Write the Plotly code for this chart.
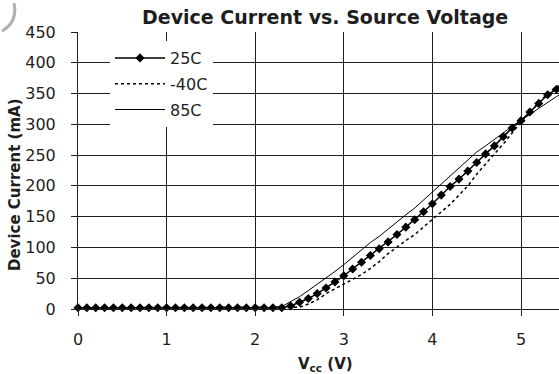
import plotly.graph_objects as go

# Source voltage (V)
vcc = [0.0, 0.1, 0.2, 0.3, 0.4, 0.5, 0.6, 0.7, 0.8, 0.9,
       1.0, 1.1, 1.2, 1.3, 1.4, 1.5, 1.6, 1.7, 1.8, 1.9,
       2.0, 2.1, 2.2, 2.3, 2.4, 2.5, 2.6, 2.7, 2.8, 2.9,
       3.0, 3.1, 3.2, 3.3, 3.4, 3.5, 3.6, 3.7, 3.8, 3.9,
       4.0, 4.1, 4.2, 4.3, 4.4, 4.5, 4.6, 4.7, 4.8, 4.9,
       5.0, 5.1, 5.2, 5.3, 5.4, 5.5]

# Device current (mA)
i_25c = [2, 2, 2, 2, 2, 2, 2, 2, 2, 2,
         2, 2, 2, 2, 2, 2, 2, 2, 2, 2,
         2, 2, 2, 2, 5, 11, 17, 25, 34, 44,
         54, 65, 76, 87, 98, 109, 121, 133, 145, 158,
         171, 185, 199, 211, 224, 238, 252, 265, 280, 294,
         306, 320, 334, 348, 357, 366]

i_m40c = [2, 2, 2, 2, 2, 2, 2, 2, 2, 2,
          2, 2, 2, 2, 2, 2, 2, 2, 2, 2,
          2, 2, 2, 2, 2, 3, 8, 15, 25, 33,
          41, 49, 56, 66, 77, 90, 101, 111, 121, 133,
          145, 158, 170, 185, 200, 219, 236, 252, 268, 287,
          304, 320, 335, 350, 360, 368]

i_85c = [2, 2, 2, 2, 2, 2, 2, 2, 2, 2,
         2, 2, 2, 2, 2, 2, 2, 2, 2, 2,
         2, 2, 2, 4, 12, 20, 30, 40, 51, 61,
         72, 84, 96, 108, 118, 130, 142, 153, 164, 177,
         190, 203, 216, 229, 242, 255, 265, 275, 286, 297,
         306, 316, 326, 336, 345, 354]

x_ticks = [0, 1, 2, 3, 4, 5]
y_ticks = [0, 50, 100, 150, 200, 250, 300, 350, 400, 450]

FONT = "DejaVu Sans"
INK = "#1e1e1e"

fig = go.Figure()
fig.add_trace(go.Scatter(
    x=vcc, y=i_25c, name="25C", mode="lines+markers",
    line=dict(color="black", width=1.5),
    marker=dict(symbol="diamond", size=7, color="black"),
    cliponaxis=False, legendgroup="a"))
fig.add_trace(go.Scatter(
    x=vcc, y=i_m40c, name="-40C", mode="lines",
    line=dict(color="black", width=1.5, dash="dot"),
    cliponaxis=False, legendgroup="b"))
fig.add_trace(go.Scatter(
    x=vcc, y=i_85c, name="85C", mode="lines",
    line=dict(color="black", width=1),
    cliponaxis=False, legendgroup="c"))

L, R, T, B = 78, 0, 32, 65
W, H = 559, 374
pw, ph = W - L - R, H - T - B

def px(xp):
    return (xp - L) / pw

def py(yp):
    return (H - B - yp) / ph

fig.update_layout(
    width=W, height=H, autosize=False,
    margin=dict(l=L, r=R, t=T, b=B, pad=0),
    paper_bgcolor="white", plot_bgcolor="white",
    font=dict(family=FONT, size=16, color=INK),
    showlegend=True,
    legend=dict(
        x=px(110), y=py(41), xanchor="left", yanchor="top",
        bgcolor="white", borderwidth=0,
        font=dict(family=FONT, size=16, color=INK),
        itemwidth=50, tracegroupgap=2,
    ),
    xaxis=dict(
        range=[0, pw / 88.6], tickvals=x_ticks, ticktext=[str(t) for t in x_ticks],
        showgrid=True, gridcolor=INK, gridwidth=1,
        showline=True, linecolor=INK, linewidth=1,
        ticks="outside", ticklen=6, tickcolor=INK,
        ticklabelstandoff=10, zeroline=False,
        tickfont=dict(family=FONT, size=16, color=INK),
    ),
    yaxis=dict(
        range=[0, 450], tickvals=y_ticks, ticktext=[str(t) for t in y_ticks],
        showgrid=True, gridcolor=INK, gridwidth=1,
        showline=True, linecolor=INK, linewidth=1,
        ticks="outside", ticklen=6, tickcolor=INK,
        ticklabelstandoff=12, zeroline=False,
        tickfont=dict(family=FONT, size=16, color=INK),
    ),
    annotations=[
        dict(text="<b>Device Current vs. Source Voltage</b>", xref="paper", yref="paper",
             x=px(325), y=py(17), xanchor="center", yanchor="middle", showarrow=False,
             font=dict(family=FONT, size=19, color=INK)),
        dict(text="<b>Device Current (mA)</b>", xref="paper", yref="paper",
             x=px(15), y=py(185), xanchor="center", yanchor="middle", showarrow=False,
             textangle=-90, font=dict(family=FONT, size=15, color=INK)),
        dict(text="<b>V<sub>cc</sub> (V)</b>", xref="paper", yref="paper",
             x=px(325), y=py(364), xanchor="center", yanchor="middle", showarrow=False,
             font=dict(family=FONT, size=15, color=INK)),
    ],
    shapes=[
        dict(type="path", xref="paper", yref="paper",
             path="M {:.4f},{:.4f} Q {:.4f},{:.4f} {:.4f},{:.4f}".format(
                 px(2), py(31), px(18), py(22), px(14), py(3)),
             line=dict(color="#b0b0b0", width=3)),
    ],
)

fig.write_html("out.html")
